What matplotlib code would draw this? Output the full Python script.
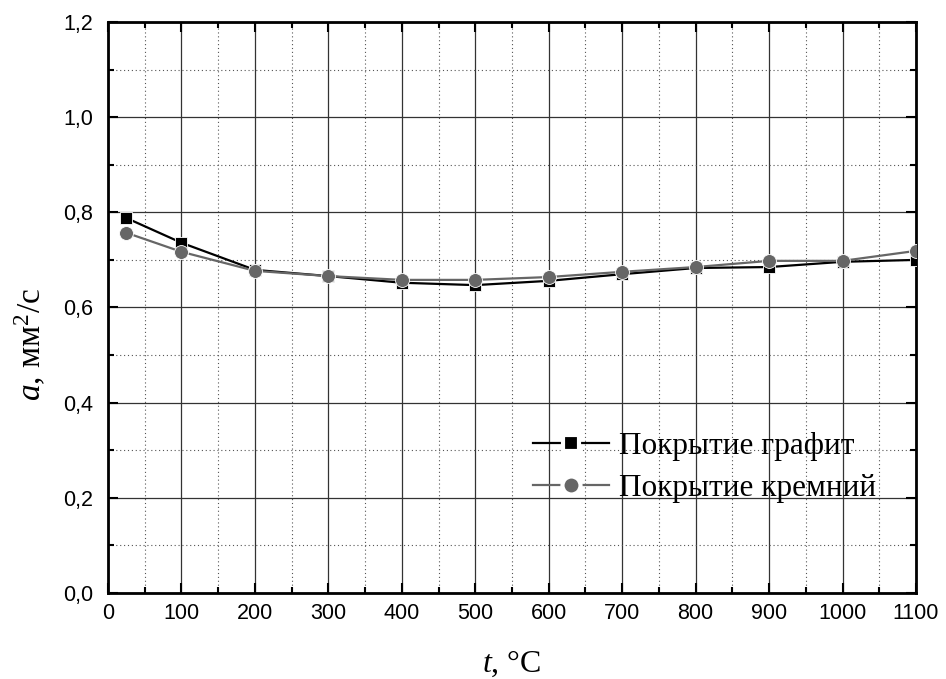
import matplotlib
matplotlib.use("Agg")
import matplotlib.pyplot as plt
from matplotlib.lines import Line2D
from matplotlib.ticker import MultipleLocator, FuncFormatter

# temperature, deg C
temps = [25, 100, 200, 300, 400, 500, 600, 700, 800, 900, 1000, 1100]
# thermal diffusivity, mm^2/s
graphite = [0.788, 0.736, 0.679, 0.666, 0.652, 0.647, 0.656, 0.670, 0.683, 0.685, 0.696, 0.700]
silicon = [0.757, 0.717, 0.677, 0.666, 0.658, 0.658, 0.664, 0.675, 0.685, 0.698, 0.698, 0.719]
labels = ["Покрытие графит", "Покрытие кремний"]

plt.rcParams.update({
    "font.family": "Liberation Sans",
    "xtick.labelsize": 15.5,
    "ytick.labelsize": 15.5,
    "mathtext.fontset": "custom",
    "mathtext.rm": "Liberation Serif",
    "mathtext.it": "Liberation Serif:italic",
})

fig = plt.figure(figsize=(9.46, 6.79), dpi=100)
ax = fig.add_axes([0.1142, 0.1267, 0.8541, 0.8409])

ax.plot(temps, graphite, color="black", lw=1.6, marker="s", ms=9,
        markeredgecolor="white", markeredgewidth=0.6, zorder=3)
ax.plot(temps, silicon, color="#666666", lw=1.6, marker="o", ms=10,
        markeredgecolor="white", markeredgewidth=0.6, zorder=4)

ax.set_xlim(0, 1100)
ax.set_ylim(0, 1.2)
ax.xaxis.set_major_locator(MultipleLocator(100))
ax.xaxis.set_minor_locator(MultipleLocator(50))
ax.yaxis.set_major_locator(MultipleLocator(0.2))
ax.yaxis.set_minor_locator(MultipleLocator(0.1))
ax.yaxis.set_major_formatter(FuncFormatter(lambda v, p: f"{v:.1f}".replace(".", ",")))

ax.grid(which="major", color="#333333", lw=0.9, ls="-")
ax.grid(which="minor", color="#555555", lw=0.8, ls=(0, (1, 2.5)))
ax.set_axisbelow(True)

ax.tick_params(which="both", direction="in", top=True, right=True, width=1.5)
ax.tick_params(which="major", length=7, pad=7)
ax.tick_params(axis="y", which="major", pad=11)
ax.tick_params(which="minor", length=4)
for s in ax.spines.values():
    s.set_linewidth(2)

serif = "Liberation Serif"
ax.set_xlabel(r"$t$, °C", fontfamily=serif, fontsize=23, labelpad=18)
ax.set_ylabel(r"$a$, мм$^2$/с", fontfamily=serif, fontsize=24)
ax.yaxis.set_label_coords(-0.074, 0.436)

handles = [
    Line2D([], [], color="black", lw=1.6, marker="s", ms=12,
           markeredgecolor="white", markeredgewidth=3),
    Line2D([], [], color="#666666", lw=1.6, marker="o", ms=13,
           markeredgecolor="white", markeredgewidth=3),
]
ax.legend(handles, labels, loc="center right", bbox_to_anchor=(0.985, 0.22),
          frameon=False, prop={"family": serif, "size": 22.5}, handlelength=2.45,
          handletextpad=0.3, labelspacing=0.4)

fig.savefig("out.png", dpi=100)
